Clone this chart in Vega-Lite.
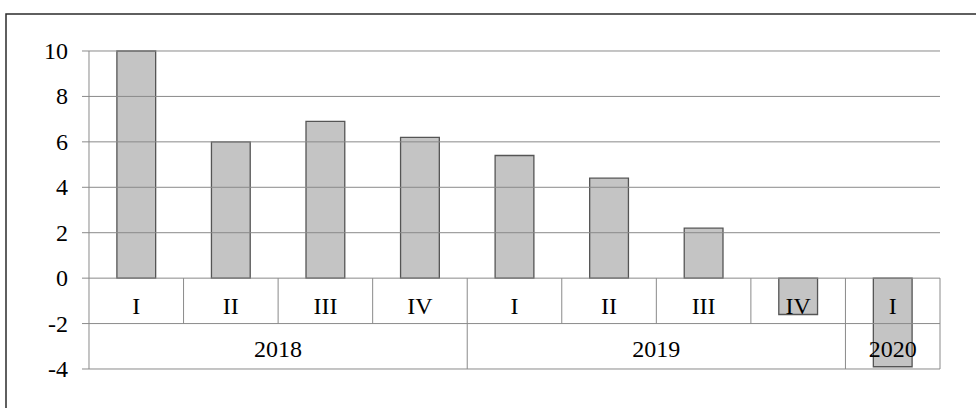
{
  "$schema": "https://vega.github.io/schema/vega-lite/v6.json",
  "autosize": {"type": "none"},
  "padding": {"left": 6, "top": 14, "right": -10, "bottom": -16},
  "width": 980,
  "height": 410,
  "background": "white",
  "config": {
    "view": {"stroke": "#2b2b2b", "strokeWidth": 1.5},
    "text": {"font": "Liberation Serif", "color": "#000000"}
  },
  "datasets": {
    "quarters": [
      {"cat": "2018-I", "year": "2018", "q": "I", "value": 10},
      {"cat": "2018-II", "year": "2018", "q": "II", "value": 6.0},
      {"cat": "2018-III", "year": "2018", "q": "III", "value": 6.9},
      {"cat": "2018-IV", "year": "2018", "q": "IV", "value": 6.2},
      {"cat": "2019-I", "year": "2019", "q": "I", "value": 5.4},
      {"cat": "2019-II", "year": "2019", "q": "II", "value": 4.4},
      {"cat": "2019-III", "year": "2019", "q": "III", "value": 2.2},
      {"cat": "2019-IV", "year": "2019", "q": "IV", "value": -1.6},
      {"cat": "2020-I", "year": "2020", "q": "I", "value": -3.9}
    ],
    "grid": [
      {"v": -4, "label": "-4", "a": "2018-I", "b": "2020-I"},
      {"v": -2, "label": "-2", "a": "2018-I", "b": "2020-I"},
      {"v": 0, "label": "0", "a": "2018-I", "b": "2020-I"},
      {"v": 2, "label": "2", "a": "2018-I", "b": "2020-I"},
      {"v": 4, "label": "4", "a": "2018-I", "b": "2020-I"},
      {"v": 6, "label": "6", "a": "2018-I", "b": "2020-I"},
      {"v": 8, "label": "8", "a": "2018-I", "b": "2020-I"},
      {"v": 10, "label": "10", "a": "2018-I", "b": "2020-I"}
    ],
    "years4": [{"year": "2018", "anchor": "2018-III"}, {"year": "2019", "anchor": "2019-III"}],
    "years1": [{"year": "2020", "anchor": "2020-I"}]
  },
  "data": {"name": "quarters"},
  "layer": [
    {
      "mark": {"type": "bar", "width": {"band": 0.41}, "fill": "#c4c4c4", "stroke": "#555555", "strokeWidth": 1.3},
      "encoding": {
        "x": {
          "field": "cat", "type": "nominal", "axis": null,
          "scale": {"domain": ["2018-I", "2018-II", "2018-III", "2018-IV", "2019-I", "2019-II", "2019-III", "2019-IV", "2020-I"],
                    "paddingInner": 0, "paddingOuter": 0.68212, "align": 0.64341}
        },
        "y": {
          "field": "value", "type": "quantitative",
          "scale": {"domain": [-6.4214, 11.6289], "nice": false, "zero": false},
          "axis": null
        },
        "y2": {"datum": 0}
      }
    },
    {
      "data": {"name": "grid"},
      "mark": {"type": "rule", "color": "#8a8a8a", "strokeWidth": 1, "xOffset": -7},
      "encoding": {
        "y": {"field": "v", "type": "quantitative", "axis": null},
        "x": {"field": "a", "type": "nominal", "bandPosition": 0, "axis": null},
        "x2": {"field": "b", "bandPosition": 1}
      }
    },
    {
      "data": {"name": "grid"},
      "mark": {"type": "text", "font": "Liberation Serif", "fontSize": 24, "align": "right", "baseline": "middle", "dx": -21, "dy": 1},
      "encoding": {
        "y": {"field": "v", "type": "quantitative", "axis": null},
        "x": {"field": "a", "type": "nominal", "bandPosition": 0, "axis": null},
        "text": {"field": "label", "type": "nominal"}
      }
    },
    {
      "transform": [{"filter": "datum.q !== 'I'"}],
      "mark": {"type": "rule", "color": "#8a8a8a", "strokeWidth": 1},
      "encoding": {
        "x": {"field": "cat", "type": "nominal", "bandPosition": 0, "axis": null},
        "y": {"datum": 0, "type": "quantitative", "axis": null},
        "y2": {"datum": -2}
      }
    },
    {
      "transform": [{"filter": "datum.q === 'I'"}],
      "mark": {"type": "rule", "color": "#8a8a8a", "strokeWidth": 1},
      "encoding": {
        "x": {"field": "cat", "type": "nominal", "bandPosition": 0, "axis": null},
        "y": {"datum": 0, "type": "quantitative", "axis": null},
        "y2": {"datum": -4}
      }
    },
    {
      "transform": [{"filter": "datum.cat === '2018-I'"}],
      "mark": {"type": "rule", "color": "#8a8a8a", "strokeWidth": 1},
      "encoding": {
        "x": {"field": "cat", "type": "nominal", "bandPosition": 0, "axis": null},
        "y": {"datum": 10, "type": "quantitative", "axis": null},
        "y2": {"datum": 0}
      }
    },
    {
      "transform": [{"filter": "datum.cat === '2020-I'"}],
      "mark": {"type": "rule", "color": "#8a8a8a", "strokeWidth": 1},
      "encoding": {
        "x": {"field": "cat", "type": "nominal", "bandPosition": 1, "axis": null},
        "y": {"datum": 0, "type": "quantitative", "axis": null},
        "y2": {"datum": -4}
      }
    },
    {
      "mark": {"type": "text", "font": "Liberation Serif", "fontSize": 24, "baseline": "middle", "align": "center", "dy": 6},
      "encoding": {
        "x": {"field": "cat", "type": "nominal", "axis": null},
        "y": {"datum": -1, "type": "quantitative", "axis": null},
        "text": {"field": "q"}
      }
    },
    {
      "data": {"name": "years4"},
      "mark": {"type": "text", "font": "Liberation Serif", "fontSize": 24, "baseline": "middle", "align": "center", "dy": 4},
      "encoding": {
        "x": {"field": "anchor", "type": "nominal", "bandPosition": 0, "axis": null},
        "y": {"datum": -3, "type": "quantitative", "axis": null},
        "text": {"field": "year"}
      }
    },
    {
      "data": {"name": "years1"},
      "mark": {"type": "text", "font": "Liberation Serif", "fontSize": 24, "baseline": "middle", "align": "center", "dy": 4},
      "encoding": {
        "x": {"field": "anchor", "type": "nominal", "axis": null},
        "y": {"datum": -3, "type": "quantitative", "axis": null},
        "text": {"field": "year"}
      }
    }
  ]
}
